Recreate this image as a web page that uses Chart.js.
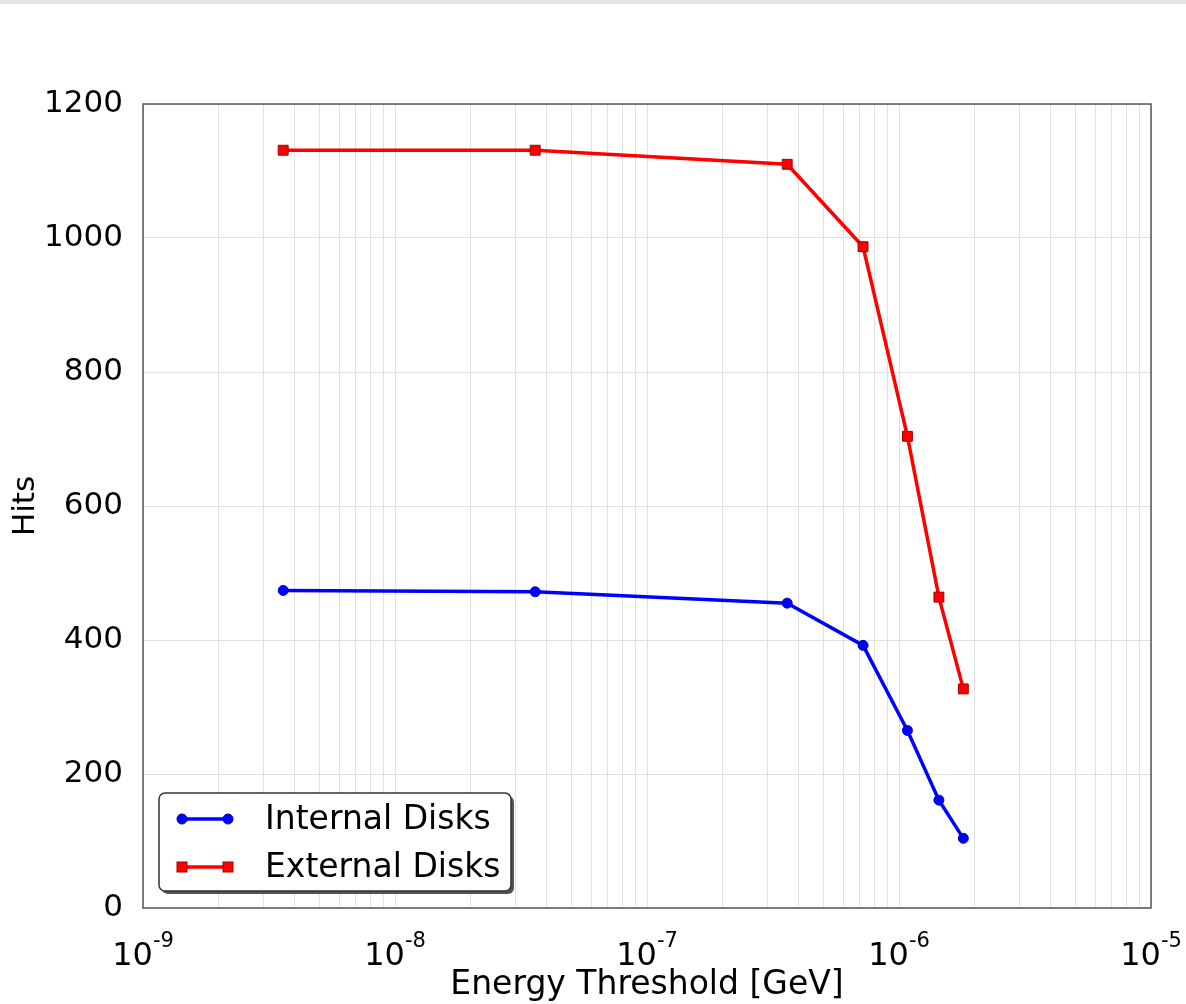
<!DOCTYPE html>
<html>
<head>
<meta charset="utf-8">
<script src="https://cdn.jsdelivr.net/npm/chart.js@4/dist/chart.umd.min.js"></script>
<style>
  body { margin: 0; background: #fff; }
  #bar { height: 4px; background: #e3e3e3; }
  #wrap { width: 1186px; height: 1000px; }
</style>
</head>
<body>
<div id="bar"></div>
<div id="wrap"><canvas id="plot" width="1186" height="1000"></canvas></div>
<script>
// data
const energy = [3.6e-9, 3.6e-8, 3.6e-7, 7.2e-7, 1.08e-6, 1.44e-6, 1.8e-6];
const internalHits = [474, 472, 455, 392, 265, 161, 104];
const externalHits = [1131, 1131, 1110, 987, 704, 464, 327];
const seriesNames = ['Internal Disks', 'External Disks'];
const decadeExps = [-9, -8, -7, -6, -5];
const yTicks = [0, 200, 400, 600, 800, 1000, 1200];

const FONT = '"DejaVu Sans", "Liberation Sans", sans-serif';

// grid lines at 1..9 x 10^n for every decade
const xGrid = [];
decadeExps.forEach((e, i) => {
  if (i === decadeExps.length - 1) { xGrid.push(Math.pow(10, e)); return; }
  for (let k = 1; k <= 9; k++) xGrid.push(k * Math.pow(10, e));
});

// frame, x tick labels with superscripts, boxed legend
const extras = {
  id: 'extras',
  beforeDatasetsDraw(chart) {
    const { ctx, chartArea: a } = chart;
    ctx.save();
    ctx.strokeStyle = '#555';
    ctx.lineWidth = 1.5;
    ctx.strokeRect(a.left, a.top, a.right - a.left, a.bottom - a.top);
    ctx.restore();
  },
  afterDraw(chart) {
    const { ctx } = chart;
    const xs = chart.scales.x;
    ctx.save();
    ctx.fillStyle = '#000';
    ctx.textBaseline = 'alphabetic';
    ctx.textAlign = 'left';
    decadeExps.forEach(e => {
      const px = xs.getPixelForValue(Math.pow(10, e));
      ctx.font = '32px ' + FONT;
      const base = '10';
      const w1 = ctx.measureText(base).width;
      ctx.font = '21px ' + FONT;
      const sup = '-' + Math.abs(e);
      const w2 = ctx.measureText(sup).width;
      const x0 = px - (w1 + w2) / 2;
      ctx.font = '32px ' + FONT;
      ctx.fillText(base, x0, 961);
      ctx.font = '21px ' + FONT;
      ctx.fillText(sup, x0 + w1, 943);
    });

    // legend box
    const bx = 159, by = 789, bw = 352, bh = 98, r = 6;
    const rr = (x, y, w, h) => {
      ctx.beginPath();
      ctx.moveTo(x + r, y);
      ctx.arcTo(x + w, y, x + w, y + h, r);
      ctx.arcTo(x + w, y + h, x, y + h, r);
      ctx.arcTo(x, y + h, x, y, r);
      ctx.arcTo(x, y, x + w, y, r);
      ctx.closePath();
    };
    ctx.fillStyle = '#555';
    rr(bx + 3, by + 3, bw, bh);
    ctx.fill();
    ctx.fillStyle = '#fff';
    rr(bx, by, bw, bh);
    ctx.fill();
    ctx.strokeStyle = '#333';
    ctx.lineWidth = 1.5;
    ctx.stroke();

    chart.data.datasets.forEach((ds, i) => {
      const ly = 815 + 48 * i;
      ctx.strokeStyle = ds.borderColor;
      ctx.lineWidth = 3.5;
      ctx.beginPath();
      ctx.moveTo(182, ly);
      ctx.lineTo(228, ly);
      ctx.stroke();
      [182, 228].forEach(mx => {
        ctx.fillStyle = ds.pointBackgroundColor;
        ctx.strokeStyle = ds.pointBorderColor;
        ctx.lineWidth = 1;
        if (ds.pointStyle === 'rect') {
          ctx.fillRect(mx - 5, ly - 5, 10, 10);
          ctx.strokeRect(mx - 5, ly - 5, 10, 10);
        } else {
          ctx.beginPath();
          ctx.arc(mx, ly, 5, 0, Math.PI * 2);
          ctx.fill();
          ctx.stroke();
        }
      });
      ctx.fillStyle = '#000';
      ctx.font = '33px ' + FONT;
      ctx.textBaseline = 'middle';
      ctx.fillText(ds.label, 265, ly + 1);
    });
    ctx.restore();
  }
};

const gridColor = '#e0e0e0';

new Chart(document.getElementById('plot').getContext('2d'), {
  type: 'line',
  data: {
    datasets: [
      {
        label: seriesNames[0],
        data: energy.map((e, i) => ({ x: e, y: internalHits[i] })),
        borderColor: '#0000ff',
        borderWidth: 3.5,
        pointStyle: 'circle',
        pointRadius: 5,
        pointBackgroundColor: '#0000ff',
        pointBorderColor: '#0000cc',
        pointBorderWidth: 1,
        fill: false,
        tension: 0
      },
      {
        label: seriesNames[1],
        data: energy.map((e, i) => ({ x: e, y: externalHits[i] })),
        borderColor: '#ff0000',
        borderWidth: 3.5,
        pointStyle: 'rect',
        pointRadius: 7,
        pointBackgroundColor: '#ff0000',
        pointBorderColor: '#a00000',
        pointBorderWidth: 1,
        fill: false,
        tension: 0
      }
    ]
  },
  options: {
    responsive: false,
    animation: false,
    devicePixelRatio: 1,
    layout: { padding: { top: 100, right: 35, left: 0, bottom: 0 } },
    plugins: { legend: { display: false }, tooltip: { enabled: false } },
    scales: {
      x: {
        type: 'logarithmic',
        min: 1e-9,
        max: 1e-5,
        afterBuildTicks: s => { s.ticks = xGrid.map(v => ({ value: v })); },
        afterFit: s => { s.height = 96; },
        grid: { color: gridColor, lineWidth: 1, drawTicks: false },
        border: { display: false },
        ticks: { display: false },
        title: {
          display: true,
          text: 'Energy Threshold [GeV]',
          color: '#000',
          font: { family: FONT, size: 33, lineHeight: 1.1 },
          padding: { top: 0, bottom: 0 }
        }
      },
      y: {
        type: 'linear',
        min: 0,
        max: 1200,
        afterBuildTicks: s => { s.ticks = yTicks.map(v => ({ value: v })); },
        afterFit: s => { s.width = 143; },
        grid: { color: gridColor, lineWidth: 1, drawTicks: false },
        border: { display: false },
        ticks: {
          color: '#000',
          font: { family: FONT, size: 31 },
          padding: 20,
          callback: v => String(v)
        },
        title: {
          display: true,
          text: 'Hits',
          color: '#000',
          font: { family: FONT, size: 31 },
          padding: { top: 7, bottom: 0 }
        }
      }
    }
  },
  plugins: [extras]
});
</script>
</body>
</html>
